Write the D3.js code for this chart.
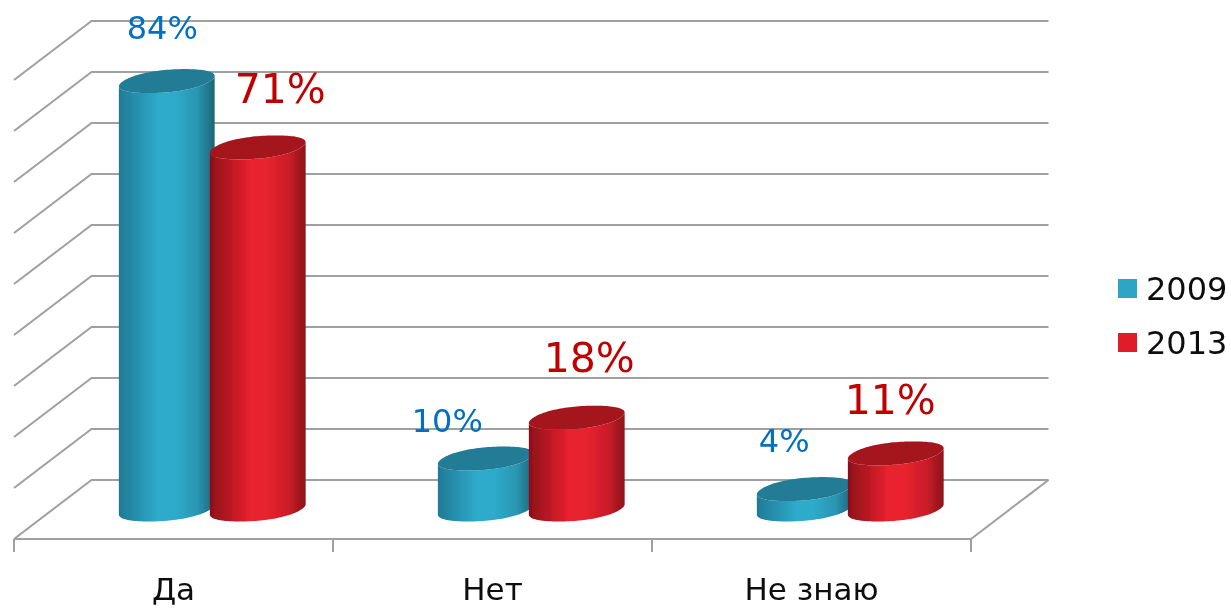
<!DOCTYPE html>
<html>
  <head>
    <meta charset="utf-8">
    <title>Да / Нет / Не знаю</title>
    <script src="https://d3js.org/d3.v7.min.js"></script>
    <style>
      html, body { margin: 0; padding: 0; background: #fff; }
      svg { display: block; }
      text { font-family: "DejaVu Sans", sans-serif; }
      .grid { stroke: #a0a0a0; stroke-width: 2; fill: none; }
      .axis-x text { font-size: 31px; fill: #111; }
      .legend text { font-size: 32px; fill: #111; }
    </style>
  </head>
  <body>
    <svg width="1231" height="608"></svg>
    <script>
      var categories = ["Да", "Нет", "Не знаю"];
      var years = ["2009", "2013"];
      var values2009 = [84, 10, 4];
      var values2013 = [71, 18, 11];
      var yTicks = [0, 10, 20, 30, 40, 50, 60, 70, 80, 90];

      // hand placed labels, they sit off the bars in the original
      var labelShift2009 = [[-4.5, -42], [-38.5, -26.5], [-20.5, -37]];
      var labelShift2013 = [[22.5, -44.5], [12.5, -45.7], [-5.5, -39]];

      var colors = {
        "2009": {dark: "#1f7a96", mid: "#2fabcb", edge: "#1c6578", top: "#237b95", swatch: "#2ea5c4", text: "#0070c0", size: 32},
        "2013": {dark: "#8c1019", mid: "#e8212e", edge: "#8a1219", top: "#a5161d", swatch: "#e01f2a", text: "#c00000", size: 41}
      };

      var depthX = 77.5, depthY = -59;

      var svg = d3.select("svg");

      var x = d3.scaleBand().domain(categories).range([14, 971]);
      var y = d3.scaleLinear().domain([0, 90]).range([539, 80]);
      var inner = d3.scaleBand().domain(years).range([-91, 91]);

      // gradients for the cylinder sides
      var defs = svg.append("defs");
      years.forEach(function(yr) {
        var g = defs.append("linearGradient").attr("id", "side" + yr);
        g.append("stop").attr("offset", "0%").attr("stop-color", colors[yr].dark);
        g.append("stop").attr("offset", "42%").attr("stop-color", colors[yr].mid);
        g.append("stop").attr("offset", "58%").attr("stop-color", colors[yr].mid);
        g.append("stop").attr("offset", "82%").attr("stop-color", yr == "2009" ? "#2a96b3" : "#cc1e28");
        g.append("stop").attr("offset", "100%").attr("stop-color", colors[yr].edge);
      });

      // the reference is a slightly soft upscale
      defs.append("filter").attr("id", "soft")
          .attr("filterUnits", "userSpaceOnUse")
          .attr("x", 0).attr("y", 0).attr("width", 1231).attr("height", 608)
        .append("feGaussianBlur").attr("stdDeviation", 0.45);

      var root = svg.append("g").attr("filter", "url(#soft)");

      // walls and floor
      var grid = root.append("g");
      yTicks.forEach(function(t) {
        grid.append("path").attr("class", "grid")
            .attr("d", d3.line()([
              [x.range()[0], y(t)],
              [x.range()[0] + depthX, y(t) + depthY],
              [x.range()[1] + depthX, y(t) + depthY]
            ]));
      });
      grid.append("path").attr("class", "grid")
          .attr("d", d3.line()([
            [x.range()[1] + depthX, y(0) + depthY],
            [x.range()[1], y(0)]
          ]));

      // category axis, ticks go on the band edges
      var axis = root.append("g")
          .attr("class", "axis-x")
          .attr("transform", "translate(0," + y(0) + ")")
          .call(d3.axisBottom(x).tickSize(0).tickPadding(42));
      axis.select(".domain").remove();
      axis.selectAll("text").attr("dy", "0.6em");

      var edges = categories.map(function(c) { return x(c); }).concat([x.range()[1]]);
      root.append("path").attr("class", "grid")
          .attr("d", d3.line()([[x.range()[0], y(0)], [x.range()[1], y(0)]]));
      root.selectAll(".tick-edge")
          .data(edges)
          .enter().append("line")
          .attr("class", "grid tick-edge")
          .attr("x1", function(d) { return d; })
          .attr("x2", function(d) { return d; })
          .attr("y1", y(0))
          .attr("y2", y(0) + 13);

      // rim of the cylinder, a slanted and slightly squared ellipse like the original
      var ux = 43.5, vx = 18, vy = -12, rimPower = 0.92;

      function rimPoint(cx, cy, t) {
        var c = Math.cos(t), s = Math.sin(t);
        var cp = Math.sign(c) * Math.pow(Math.abs(c), rimPower);
        var sp = Math.sign(s) * Math.pow(Math.abs(s), rimPower);
        return [cx + ux * cp + vx * sp, cy + vy * sp];
      }

      // angle where the rim reaches furthest right, the side wall starts there
      var tangent = d3.greatest(d3.range(0, 90).map(function(d) { return d * Math.PI / 180; }),
                                function(t) { return rimPoint(0, 0, t)[0]; });

      function cylinderTop(cx, yTop) {
        return d3.line()(d3.range(0, 120).map(function(i) {
          return rimPoint(cx, yTop, i / 120 * 2 * Math.PI);
        })) + "Z";
      }

      function cylinderSide(cx, yTop, yBase) {
        var pts = [];
        // across the front of the top rim, then back along the front of the base
        d3.range(0, 61).forEach(function(i) {
          pts.push(rimPoint(cx, yTop, tangent + Math.PI + (i / 60) * Math.PI));
        });
        d3.range(0, 61).forEach(function(i) {
          pts.push(rimPoint(cx, yBase, tangent + 2 * Math.PI - (i / 60) * Math.PI));
        });
        return d3.line()(pts) + "Z";
      }

      function barCenter(cat, yr) {
        return x(cat) + x.bandwidth() / 2 + depthX / 2 + inner(yr) + inner.bandwidth() / 2;
      }

      function drawBar(yr, values, cat, i) {
        var cx = barCenter(cat, yr);
        var base = y(0) + depthY / 2;
        var top = y(values[i]) + depthY / 2;
        var g = root.append("g");
        g.append("path")
            .attr("d", cylinderSide(cx, top, base))
            .attr("fill", "url(#side" + yr + ")");
        g.append("path")
            .attr("d", cylinderTop(cx, top))
            .attr("fill", colors[yr].top);
      }

      categories.forEach(function(cat, i) {
        drawBar("2009", values2009, cat, i);
        drawBar("2013", values2013, cat, i);
      });

      // value labels go on top of everything
      function drawLabels(yr, values, shifts) {
        var c = colors[yr];
        root.append("g").selectAll("text")
            .data(values)
            .enter().append("text")
            .attr("text-anchor", "middle")
            .attr("font-size", c.size)
            .attr("fill", c.text)
            .attr("x", function(d, i) { return barCenter(categories[i], yr) + shifts[i][0]; })
            .attr("y", function(d, i) { return y(d) + depthY / 2 + shifts[i][1]; })
            .text(function(d) { return d + "%"; });
      }
      drawLabels("2009", values2009, labelShift2009);
      drawLabels("2013", values2013, labelShift2013);

      // legend
      var legend = root.append("g").attr("class", "legend")
          .attr("transform", "translate(1118,279)");
      var rows = legend.selectAll("g")
          .data(years)
          .enter().append("g")
          .attr("transform", function(d, i) { return "translate(0," + (i * 54) + ")"; });
      rows.append("rect")
          .attr("width", 19).attr("height", 19)
          .attr("fill", function(d) { return colors[d].swatch; });
      rows.append("text")
          .attr("x", 28).attr("y", 21)
          .text(function(d) { return d; });
    </script>
  </body>
</html>
